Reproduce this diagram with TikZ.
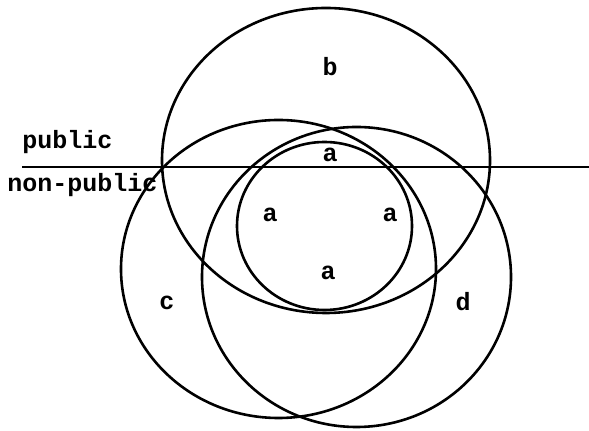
\documentclass[tikz,border=0pt]{standalone}
\usepackage{fontspec}
\setmonofont{Liberation Mono}
\usetikzlibrary{positioning}
\tikzset{
  ring/.style={line width=1.3pt},
  lbl/.style={font=\ttfamily\bfseries\fontsize{12.5}{14}\selectfont,inner sep=0pt}
}

\begin{document}
\begin{tikzpicture}[x=0.5pt,y=-0.5pt]
\useasboundingbox (0,0) rectangle (589,431);
% the four sets
\draw[ring] (326,160.5) ellipse [x radius=82pt,y radius=76.25pt];
\draw[ring] (324.5,226) ellipse [x radius=43.75pt,y radius=42pt];
\draw[ring] (278.5,269) ellipse [x radius=78.75pt,y radius=74.5pt];
\draw[ring] (356.5,277) ellipse [x radius=77.25pt,y radius=75pt];
% dividing line
\coordinate (divL) at (22,167);
\coordinate (divR) at (589,167);
\draw[ring] (divL) -- (divR);
\node[lbl,anchor=base west] (pub) at (22,149) {public};
\node[lbl,anchor=base west] (npub) at (7,192) {non-public};
% region labels
\node[lbl] (lb) at (330,67) {b};
\node[lbl] (laT) at (330,155) {a};
\node[lbl] (laL) at (270,215) {a};
\node[lbl] (laR) at (390,215) {a};
\node[lbl] (laB) at (328,273) {a};
\node[lbl] (lc) at (167,303) {c};
\node[lbl] (ld) at (463,302) {d};
\end{tikzpicture}
\end{document}
